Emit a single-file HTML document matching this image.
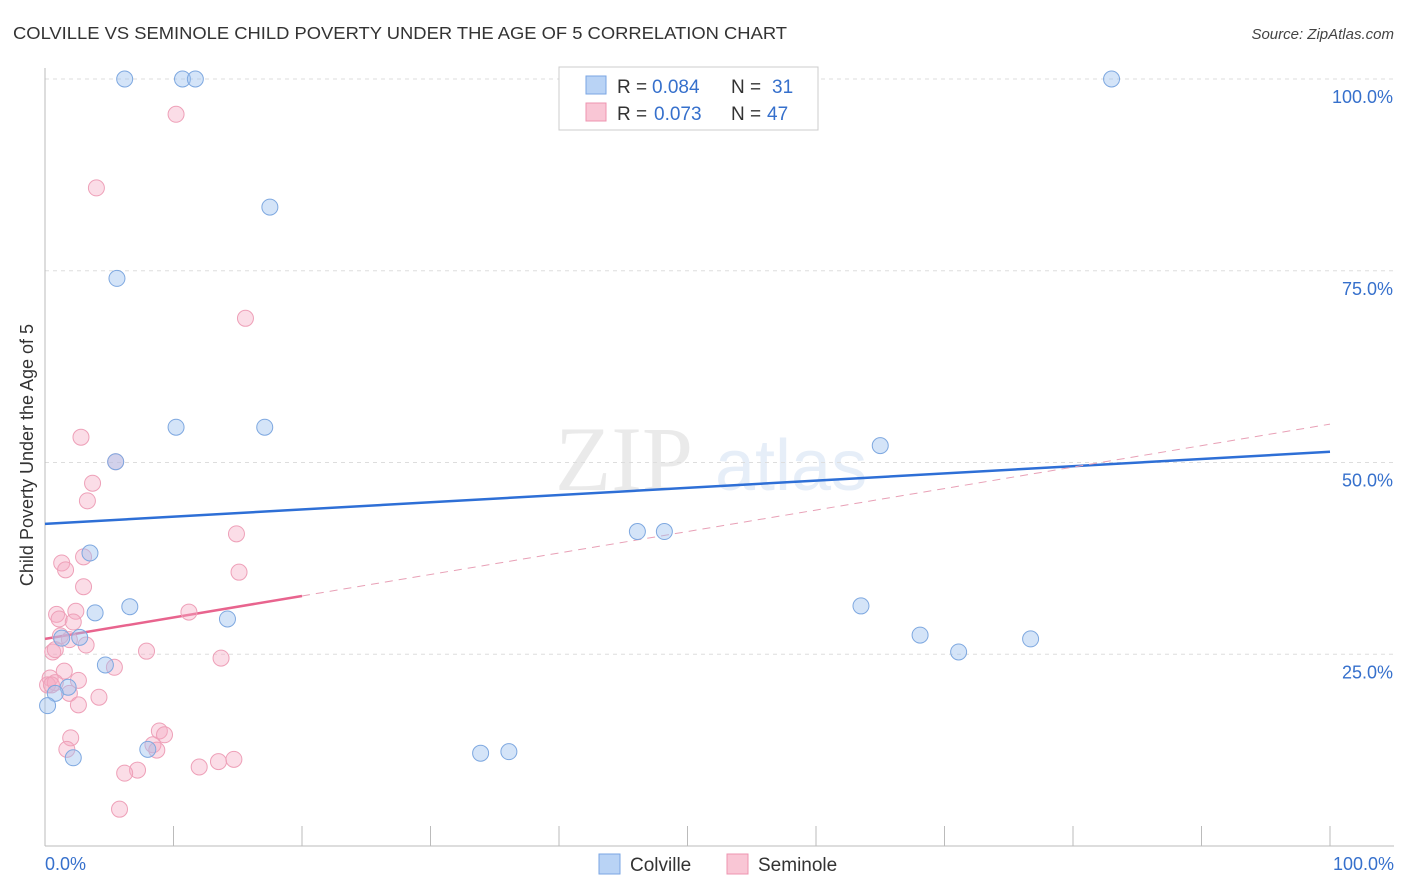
<!DOCTYPE html>
<html><head><meta charset="utf-8"><style>
body{margin:0;background:#fff;font-family:"Liberation Sans",sans-serif}
</style></head><body>
<svg id="chart" width="1406" height="892" xmlns="http://www.w3.org/2000/svg" style="display:block">
<text x="13" y="39" font-size="17.5" fill="#333" textLength="774" lengthAdjust="spacingAndGlyphs">COLVILLE VS SEMINOLE CHILD POVERTY UNDER THE AGE OF 5 CORRELATION CHART</text>
<text x="1394" y="39" font-size="15" fill="#444" font-style="italic" text-anchor="end">Source: ZipAtlas.com</text>
<g opacity="0.13">
<text x="555" y="490" font-size="92" font-family="Liberation Serif" fill="#666">ZIP</text>
<text x="715" y="490" font-size="72" fill="#4a7fd0">atlas</text>
</g>
<g id="grid"></g>
<g id="axes"></g>
<g id="lines"></g>
<g id="pts"></g>
<g>
<rect x="559" y="67" width="259" height="63" fill="#fff" stroke="#ccc"/>
<rect x="586" y="76" width="20" height="18" fill="#b9d3f5" stroke="#7aa6e3"/>
<rect x="586" y="103" width="20" height="18" fill="#f9c6d5" stroke="#ee94b0"/>
<text x="617" y="93" font-size="19" fill="#333">R =</text>
<text x="652" y="93" font-size="19" fill="#3670cc">0.084</text>
<text x="731" y="93" font-size="19" fill="#333">N =</text>
<text x="772" y="93" font-size="19" fill="#3670cc">31</text>
<text x="617" y="120" font-size="19" fill="#333">R =</text>
<text x="654" y="120" font-size="19" fill="#3670cc">0.073</text>
<text x="731" y="120" font-size="19" fill="#333">N =</text>
<text x="767" y="120" font-size="19" fill="#3670cc">47</text>
</g>
<g>
<rect x="599" y="854" width="21" height="20" fill="#b9d3f5" stroke="#7aa6e3"/>
<text x="630" y="871" font-size="19" fill="#333">Colville</text>
<rect x="727" y="854" width="21" height="20" fill="#f9c6d5" stroke="#ee94b0"/>
<text x="758" y="871" font-size="19" fill="#333">Seminole</text>
</g>
<text transform="translate(33,455) rotate(-90)" font-size="18" fill="#333" text-anchor="middle">Child Poverty Under the Age of 5</text>
<text x="45" y="870" font-size="18" fill="#3670cc">0.0%</text>
<text x="1394" y="870" font-size="18" fill="#3670cc" text-anchor="end">100.0%</text>
</svg>
<script>
const yTicks=[100,75,50,25];
const yTickLabels=["100.0%","75.0%","50.0%","25.0%"];
const colvilleX=[6.2,10.7,11.7,83.0,42.5,17.5,5.6,10.2,17.1,65.0,5.5,46.1,48.2,3.5,6.6,3.9,63.5,14.2,68.1,76.7,71.1,1.3,2.7,4.7,1.8,0.8,0.2,2.2,8.0,33.9,36.1];
const colvilleY=[100,100,100,100,100,83.3,74.0,54.6,54.6,52.2,50.1,41.0,41.0,38.2,31.2,30.4,31.3,29.6,27.5,27.0,25.3,27.1,27.2,23.6,20.7,19.9,18.3,11.5,12.6,12.1,12.3];
const seminoleX=[10.2,4.0,15.6,2.8,5.5,3.7,3.3,14.9,1.3,1.6,3.0,15.1,3.0,0.9,2.4,1.1,2.2,11.2,1.2,3.2,1.9,7.9,5.4,13.7,0.6,0.8,1.5,2.6,0.4,0.2,0.8,1.9,4.2,2.6,2.0,1.7,8.9,9.3,8.4,8.7,7.2,6.2,12.0,13.5,14.7,5.8,0.5];
const seminoleY=[95.4,85.8,68.8,53.3,50.1,47.3,45.0,40.7,36.9,36.0,37.7,35.7,33.8,30.2,30.6,29.6,29.2,30.5,27.4,26.2,26.9,25.4,23.3,24.5,25.3,25.6,22.8,21.6,21.9,21.0,21.3,19.9,19.4,18.4,14.1,12.6,15.0,14.5,13.2,12.5,9.9,9.5,10.3,11.0,11.3,4.8,21.0];
const colvilleTrend=[42.0,51.4];
const seminoleTrend=[27.0,55.0];
const seminoleSolidEnd=20;
const NS="http://www.w3.org/2000/svg";
const X=v=>45+v*12.85, Y=v=>846-v*7.67;
function mk(t,a,p){const e=document.createElementNS(NS,t);for(const k in a)e.setAttribute(k,a[k]);p.appendChild(e);return e;}
const g=document.getElementById('grid'),ax=document.getElementById('axes');
yTicks.forEach((t,i)=>{
 const l=mk('line',{x1:45,x2:1394,y1:Y(t),y2:Y(t),stroke:'#ddd','stroke-dasharray':'4,4'},g);
 
 
 const tx=mk('text',{x:1393,y:Y(t)+24,'font-size':18,fill:'#3670cc','text-anchor':'end'},ax);
 tx.textContent=yTickLabels[i];
 
 
});
mk('line',{x1:45,x2:45,y1:68,y2:846,stroke:'#bbb'},ax);
mk('line',{x1:45,x2:1394,y1:846,y2:846,stroke:'#bbb'},ax);
for(let i=0;i<=10;i++){const t=mk('line',{x1:X(i*10),x2:X(i*10),y1:826,y2:846,stroke:'#bbb'},ax);
 
 }
const L=document.getElementById('lines');
const b=mk('line',{x1:X(0),y1:Y(colvilleTrend[0]),x2:X(100),y2:Y(colvilleTrend[1]),stroke:'#2e6fd6','stroke-width':2.5},L);


const sy=v=>seminoleTrend[0]+(seminoleTrend[1]-seminoleTrend[0])*v/100;
const p1=mk('line',{x1:X(0),y1:Y(sy(0)),x2:X(seminoleSolidEnd),y2:Y(sy(seminoleSolidEnd)),stroke:'#e8648e','stroke-width':2.5},L);


const p2=mk('line',{x1:X(seminoleSolidEnd),y1:Y(sy(seminoleSolidEnd)),x2:X(100),y2:Y(sy(100)),stroke:'#e8a0b6','stroke-width':1,'stroke-dasharray':'8,6'},L);


const P=document.getElementById('pts');
seminoleX.forEach((x,i)=>{const c=mk('circle',{cx:X(x),cy:Y(seminoleY[i]),r:8,fill:'rgba(246,170,195,0.4)',stroke:'#eea0b8','stroke-width':1},P);
 
 });
colvilleX.forEach((x,i)=>{const c=mk('circle',{cx:X(x),cy:Y(colvilleY[i]),r:8,fill:'rgba(160,195,240,0.45)',stroke:'#7ea8e0','stroke-width':1},P);
 
 });
</script>
</body></html>
